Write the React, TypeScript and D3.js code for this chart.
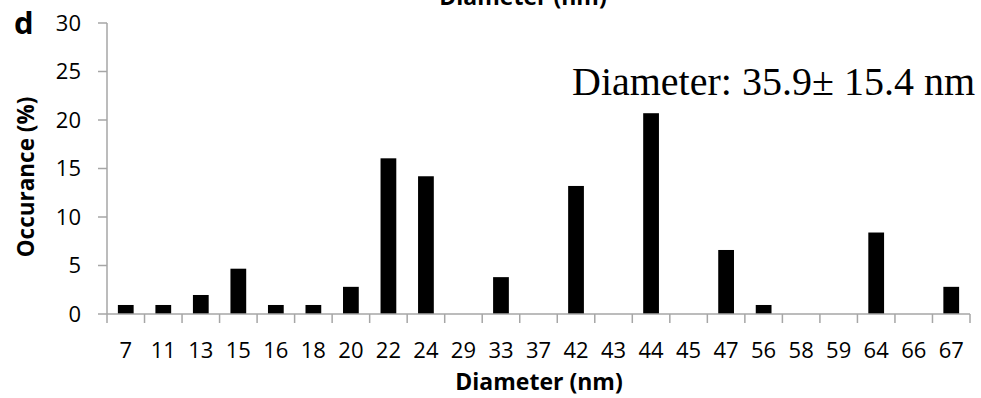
import React from "react";
import * as d3 from "d3";

const categories = ["7","11","13","15","16","18","20","22","24","29","33","37","42","43","44","45","47","56","58","59","64","66","67"];
const values = [0.93,0.93,1.96,4.67,0.93,0.93,2.8,16.05,14.2,0,3.8,0,13.2,0,20.7,0,6.6,0.93,0,0,8.4,0,2.8];
const yTicks = [0,5,10,15,20,25,30];
const xTitle = "Diameter (nm)";
const yTitle = "Occurance (%)";
const panelLabel = "d";
const annotation = "Diameter: 35.9\u00b1 15.4 nm";

const W = 981, H = 398;
const left = 107, right = 970, top = 23, bottom = 314;
const axisColor = "#a6a6a6";
const font = "'Open Sans', sans-serif";

export default function App() {
  const x = d3.scaleBand<string>().domain(categories).range([left, right]).paddingInner(0.58).paddingOuter(0.29);
  const xb = d3.scaleBand<string>().domain(categories).range([left, right]);
  const y = d3.scaleLinear().domain([0, 30]).range([bottom, top]);
  const boundaries = categories.map((c) => xb(c)!).concat([right]);
  return (
    <svg width={W} height={H} style={{ position: "absolute", left: 0, top: 0, background: "#fff" }}>
      <rect x={0} y={0} width={W} height={H} fill="#fff" />
      {/* top cut-off title */}
      <text x={523} y={5} textAnchor="middle" fontFamily={font} fontWeight="bold" fontSize={23} fill="#000">{xTitle}</text>
      <text x={14} y={34} fontFamily={font} fontWeight="bold" fontSize={31} fill="#000">{panelLabel}</text>
      {/* y axis */}
      <line x1={left} x2={left} y1={y(30)} y2={bottom} stroke={axisColor} strokeWidth={1.5} />
      {yTicks.map((t) => (
        <g key={t}>
          <line x1={left - 9} x2={left} y1={y(t)} y2={y(t)} stroke={axisColor} strokeWidth={1.5} />
          <text x={81} y={y(t)} dy="0.36em" textAnchor="end" fontFamily={font} fontSize={22} fill="#000">{t}</text>
        </g>
      ))}
      <text transform={`translate(34,${177}) rotate(-90)`} textAnchor="middle" fontFamily={font} fontWeight="bold" fontSize={22.5} fill="#000">{yTitle}</text>
      {/* bars */}
      {categories.map((c, i) => (
        values[i] > 0 ? <rect key={c} x={x(c)} y={y(values[i])} width={x.bandwidth()} height={bottom - y(values[i])} fill="#000" /> : null
      ))}
      {/* x axis */}
      <line x1={left} x2={right} y1={bottom} y2={bottom} stroke={axisColor} strokeWidth={1.5} />
      {boundaries.map((b, i) => (
        <line key={i} x1={b} x2={b} y1={bottom} y2={bottom + 9} stroke={axisColor} strokeWidth={1.5} />
      ))}
      {categories.map((c) => (
        <text key={c} x={xb(c)! + xb.bandwidth() / 2} y={358} textAnchor="middle" fontFamily={font} fontSize={22} fill="#000">{c}</text>
      ))}
      <text x={539} y={390} textAnchor="middle" fontFamily={font} fontWeight="bold" fontSize={23} fill="#000">{xTitle}</text>
      <text x={975} y={95} textAnchor="end" fontFamily="'Liberation Serif', 'Times New Roman', serif" fontSize={40} fill="#000">{annotation}</text>
    </svg>
  );
}
